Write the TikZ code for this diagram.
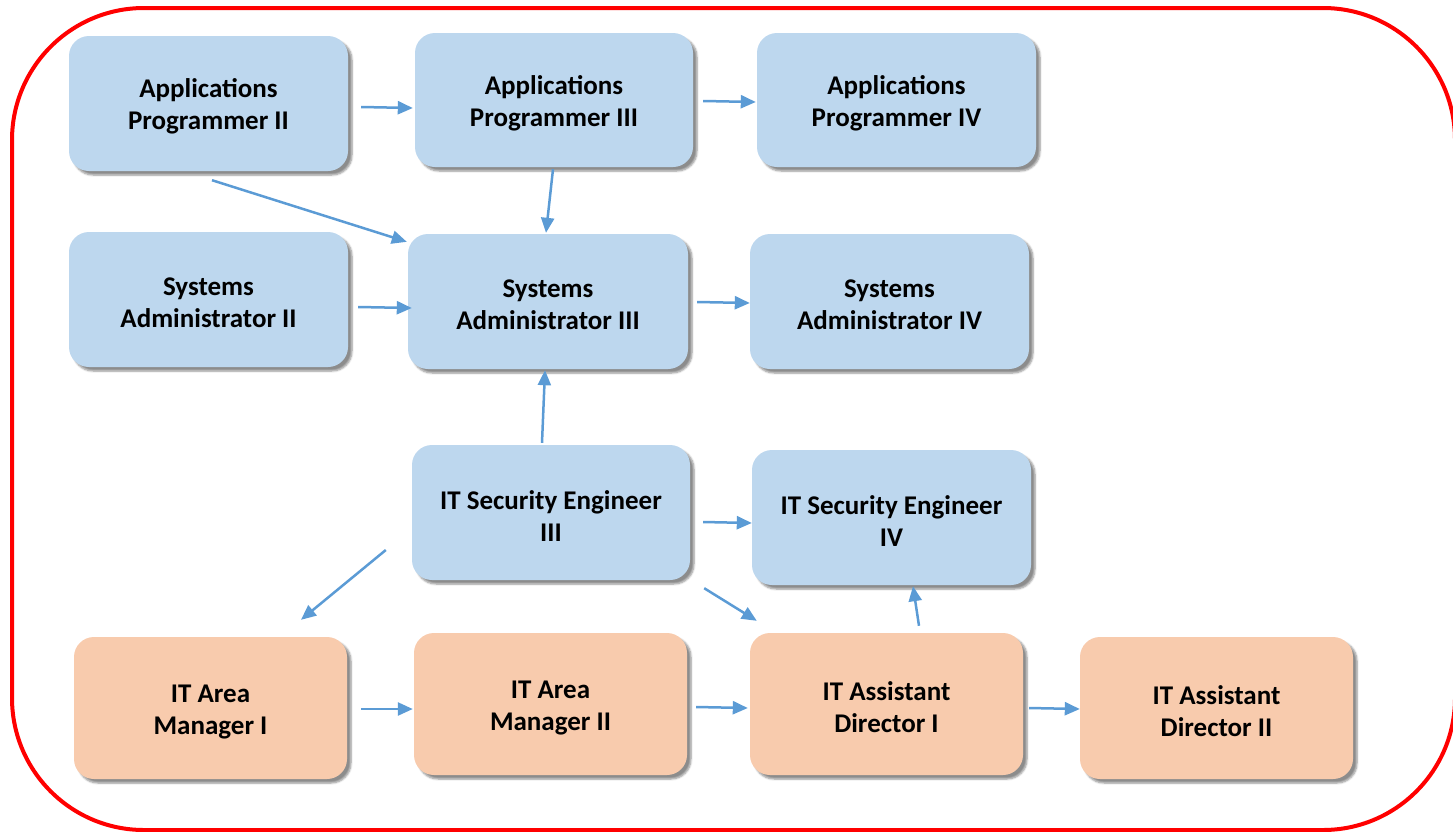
\documentclass[tikz,border=0pt]{standalone}
\usepackage{fontspec}
\setmainfont{Carlito}
\usetikzlibrary{arrows.meta,calc,shadows.blur}
\definecolor{boxblue}{HTML}{BDD7EE}
\definecolor{boxorange}{HTML}{F8CBAD}
\definecolor{arrblue}{HTML}{5B9BD5}
\newcommand\mytstrut{\rule{0pt}{25pt}}
\tikzset{
  box/.style={rounded corners=20pt, align=center, text=black,
    font=\fontsize{27}{32}\selectfont\bfseries,
    blur shadow={shadow xshift=4pt, shadow yshift=-4pt, shadow blur steps=6, shadow opacity=45}},
  bluebox/.style={box, fill=boxblue, minimum width=279pt, minimum height=135pt},
  orangebox/.style={box, fill=boxorange, minimum width=273pt, minimum height=142pt},
  arr/.style={draw=arrblue, line width=2.5pt, -{Triangle[length=15pt,width=13pt]}},
}
\begin{document}
\begin{tikzpicture}[x=1pt,y=-1pt]
\useasboundingbox (0,0) rectangle (1453,831);
\clip (0,0) rectangle (1453,831);
\draw[red, line width=4pt, rounded corners=132pt] (12,8) rectangle (1455,830);

\node[bluebox] (ap2) at (208.5,103.5) {\mytstrut Applications\\Programmer II};
\node[bluebox, minimum width=278pt, minimum height=134pt] (ap3) at (554,100) {\mytstrut Applications\\Programmer III};
\node[bluebox, minimum height=134pt] (ap4) at (896.5,100) {\mytstrut Applications\\Programmer IV};

\node[bluebox] (sa2) at (208.5,299.5) {\mytstrut Systems\\Administrator II};
\node[bluebox, minimum width=280pt] (sa3) at (548,301.5) {\mytstrut Systems\\Administrator III};
\node[bluebox] (sa4) at (889.5,301.5) {\mytstrut Systems\\Administrator IV};

\node[bluebox, minimum width=278pt] (se3) at (551,512.5) {\mytstrut IT Security Engineer\\III};
\node[bluebox] (se4) at (891.5,517.5) {\mytstrut IT Security Engineer\\IV};

\node[orangebox] (am1) at (210.5,708) {\mytstrut IT Area\\Manager I};
\node[orangebox] (am2) at (550.5,704) {\mytstrut IT Area\\Manager II};
\node[orangebox] (ad1) at (886.5,704) {\mytstrut IT Assistant\\Director I};
\node[orangebox] (ad2) at (1216.5,708) {\mytstrut IT Assistant\\Director II};

\draw[arr] ($(ap2.east)+(13,3.5)$) -- ($(ap3.west)+(-2,8)$);
\draw[arr] ($(ap3.east)+(10,1)$) -- ($(ap4.west)+(-1,2)$);
\draw[arr] ($(ap2.south)+(3.5,9)$) -- ($(sa3.north west)+(-1,8)$);
\draw[arr] ($(ap3.south)+(-1,2)$) -- ($(sa3.north)+(-2,-1)$);
\draw[arr] ($(sa2.east)+(10,7.5)$) -- ($(sa3.west)+(4,6.5)$);
\draw[arr] ($(sa3.east)+(9,0.5)$) -- ($(sa4.west)+(0,1.5)$);
\draw[arr] ($(se3.north)+(-9,-2)$) -- ($(sa3.south)+(-3,1)$);
\draw[arr] ($(se3.east)+(13,9.5)$) -- ($(se4.west)+(0,5.5)$);
\draw[arr] ($(se3.west)+(-26,37.5)$) -- ($(am1.north)+(90.5,-17)$);
\draw[arr] ($(se3.south east)+(14,8)$) -- ($(ad1.north west)+(7,-12)$);
\draw[arr] ($(ad1.north)+(32.5,-7)$) -- ($(se4.south)+(21.5,1)$);
\draw[arr] ($(am1.east)+(14,1)$) -- ($(am2.west)+(-1,5)$);
\draw[arr] ($(am2.east)+(9,3)$) -- ($(ad1.west)+(-2,4)$);
\draw[arr] ($(ad1.east)+(6,4)$) -- ($(ad2.west)+(0,1)$);
\end{tikzpicture}
\end{document}
